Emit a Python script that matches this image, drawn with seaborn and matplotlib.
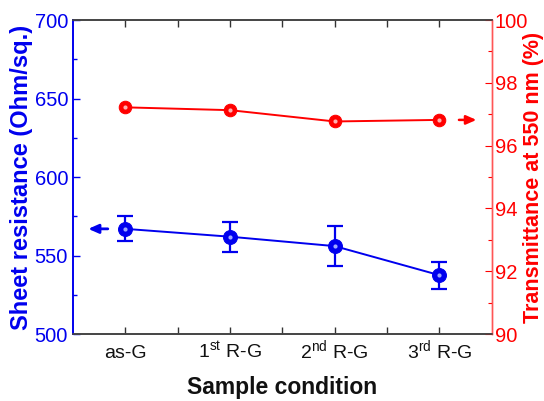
import matplotlib
matplotlib.use("Agg")
import matplotlib.pyplot as plt
import seaborn as sns
import pandas as pd
import numpy as np
from matplotlib.ticker import MultipleLocator, FixedLocator

sns.set_theme(style="white")
plt.rcParams['font.family'] = ['Liberation Sans', 'DejaVu Sans']
plt.rcParams['mathtext.fontset'] = 'custom'
plt.rcParams['mathtext.rm'] = 'Liberation Sans'
plt.rcParams['mathtext.it'] = 'Liberation Sans:italic'
plt.rcParams['mathtext.bf'] = 'Liberation Sans:bold'

categories = ["as-G", "1$^{\\rm st}$ R-G", "2$^{\\rm nd}$ R-G", "3$^{\\rm rd}$ R-G"]
positions = [1, 2, 3, 4]
sheet_res = [567, 562, 556, 537.5]
sheet_err = [8, 9.5, 12.7, 8.5]
transmit = [97.22, 97.13, 96.77, 96.82]

BLUE = "#0000ee"
RED = "#ff0000"

df = pd.DataFrame({"pos": positions, "R": sheet_res, "err": sheet_err, "T": transmit})

fig = plt.figure(figsize=(5.44, 4.01), dpi=100)
ax = fig.add_axes([0.134, 0.167, 0.770, 0.783])
ax2 = ax.twinx()

# Blue: sheet resistance
ax.errorbar(df["pos"], df["R"], yerr=df["err"], fmt="none", ecolor=BLUE,
            elinewidth=1.6, capsize=5.5, capthick=1.6, zorder=3)
sns.lineplot(data=df, x="pos", y="R", ax=ax, color=BLUE, linewidth=1.4,
             marker="o", markersize=10, markeredgecolor=BLUE, markerfacecolor=BLUE, zorder=4)
ax.plot(df["pos"], df["R"], linestyle="none", marker="o", markersize=3,
        markerfacecolor="#9fa8ff", markeredgecolor="none", zorder=5)

# Red: transmittance
sns.lineplot(data=df, x="pos", y="T", ax=ax2, color=RED, linewidth=1.4,
             marker="o", markersize=9, markeredgecolor=RED, markerfacecolor=RED, zorder=4)
ax2.plot(df["pos"], df["T"], linestyle="none", marker="o", markersize=3,
         markerfacecolor="#ffb0b0", markeredgecolor="none", zorder=5)

ax.set_xlim(0.5, 4.5)
ax.set_ylim(500, 700)
ax2.set_ylim(90, 100)

ax.set_xticks(positions)
ax.set_xticklabels(categories, fontsize=14, color="#111111")
for lab in ax.get_xticklabels():
    lab.set_verticalalignment("baseline")
ax.xaxis.set_minor_locator(FixedLocator([1.5, 2.5, 3.5]))
ax.yaxis.set_major_locator(MultipleLocator(50))
ax.yaxis.set_minor_locator(MultipleLocator(25))
ax2.yaxis.set_major_locator(MultipleLocator(2))
ax2.yaxis.set_minor_locator(MultipleLocator(1))

ax.tick_params(axis="x", which="both", direction="in", top=True, bottom=True,
               colors="#333333", labelcolor="#111111", pad=17)
ax.tick_params(axis="x", which="major", length=5, width=1)
ax.tick_params(axis="x", which="minor", length=5, width=1)
ax.tick_params(axis="y", which="both", direction="in", colors=BLUE, labelsize=14.5, left=True, right=False)
ax.tick_params(axis="y", which="major", length=5, width=1)
ax.tick_params(axis="y", which="minor", length=3, width=1)
ax2.tick_params(axis="y", which="both", direction="in", colors=RED, labelsize=14.5, right=True, left=False, pad=2)
ax2.tick_params(axis="y", which="major", length=5, width=0.8)
ax2.tick_params(axis="y", which="minor", length=3, width=0.8)

for a in (ax, ax2):
    for s in a.spines.values():
        s.set_visible(True)
        s.set_linewidth(1.2)
    a.spines["top"].set_color("#444444")
    a.spines["bottom"].set_color("#444444")
    a.spines["left"].set_color(BLUE)
    a.spines["right"].set_color("#ff5555")
    a.spines["right"].set_linewidth(1.0)
    a.grid(False)

ax.set_xlabel("Sample condition", fontsize=16.5, fontweight="bold", color="#111111", labelpad=10)
ax.set_ylabel("Sheet resistance (Ohm/sq.)", fontsize=17, fontweight="bold", color=BLUE, labelpad=1)
ax2.set_ylabel("Transmittance at 550 nm (%)", fontsize=15.5, fontweight="bold", color=RED,
               rotation=90, va="center")
ax2.yaxis.set_label_coords(1.10, 0.5)

# Arrows indicating axes
ax.annotate("", xy=(0.62, 567), xytext=(0.86, 567),
            arrowprops=dict(arrowstyle="-|>,head_length=0.5,head_width=0.22", color=BLUE, lw=2))
ax2.annotate("", xy=(4.38, 96.82), xytext=(4.16, 96.82),
             arrowprops=dict(arrowstyle="-|>,head_length=0.5,head_width=0.22", color=RED, lw=1.8))

fig.savefig("out.png", dpi=100)
